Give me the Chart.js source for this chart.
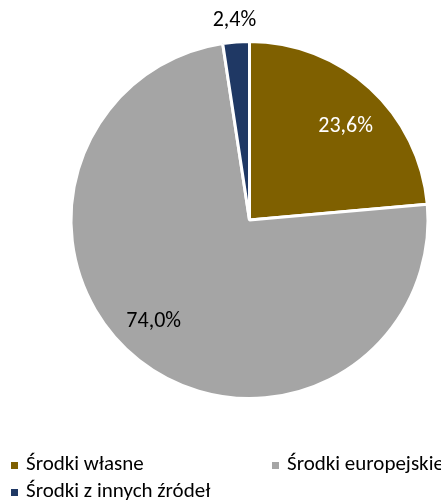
<!DOCTYPE html>
<html>
<head>
<meta charset="utf-8">
<script src="https://cdn.jsdelivr.net/npm/chart.js@4/dist/chart.umd.min.js"></script>
<style>
html,body{margin:0;padding:0;background:#fff;}
#wrap{width:441px;height:502px;position:relative;}
</style>
</head>
<body>
<div id="wrap"><canvas id="c" width="441" height="502"></canvas></div>
<script>
const categories = ["Środki własne", "Środki europejskie", "Środki z innych źródeł"];
const values = [23.6, 74.0, 2.4];
const valueLabels = ["23,6%", "74,0%", "2,4%"];
const colors = ["#7F6000", "#A5A5A5", "#1F3864"];
const labelColors = ["#FFFFFF", "#000000", "#000000"];
const labelFrac = [0.54, 0.52, 0.5];     // angular position within slice
const labelDist = [0.75, 0.78, 1.12];    // radial distance (fraction of radius)

const FONT = "Carlito, Lato, 'Liberation Sans', sans-serif";

const labelPlugin = {
  id: 'sliceLabels',
  afterDatasetsDraw(chart) {
    const ctx = chart.ctx;
    const meta = chart.getDatasetMeta(0);
    ctx.save();
    ctx.font = "22px " + FONT;
    ctx.textAlign = 'center';
    ctx.textBaseline = 'middle';
    meta.data.forEach((arc, i) => {
      const p = arc.getProps(['x','y','startAngle','endAngle','outerRadius'], true);
      const a = p.startAngle + (p.endAngle - p.startAngle) * labelFrac[i];
      const r = p.outerRadius * labelDist[i];
      ctx.fillStyle = labelColors[i];
      ctx.fillText(valueLabels[i], p.x + Math.cos(a) * r, p.y + Math.sin(a) * r);
    });
    ctx.restore();
  }
};

const legendPlugin = {
  id: 'customLegend',
  afterDraw(chart) {
    const ctx = chart.ctx;
    ctx.save();
    ctx.font = "21px " + FONT;
    ctx.textBaseline = 'middle';
    ctx.textAlign = 'left';
    const cols = [11, 272];
    const rows = [465, 492];
    categories.forEach((name, i) => {
      const col = i % 2, row = Math.floor(i / 2);
      const x = cols[col], y = rows[row];
      ctx.fillStyle = colors[i];
      ctx.fillRect(x, y - 3, 7, 7);
      ctx.fillStyle = '#000';
      ctx.fillText(name, x + 15, y);
    });
    ctx.restore();
  }
};

new Chart(document.getElementById('c'), {
  type: 'pie',
  data: {
    labels: categories,
    datasets: [{
      data: values,
      backgroundColor: colors,
      borderColor: '#FFFFFF',
      borderWidth: 3,
      hoverOffset: 0,
      hoverBorderWidth: 3
    }]
  },
  options: {
    responsive: false,
    animation: false,
    events: [],
    layout: { padding: { left: 69, top: 40, right: 11, bottom: 102 } },
    plugins: {
      legend: { display: false },
      tooltip: { enabled: false }
    }
  },
  plugins: [labelPlugin, legendPlugin]
});
</script>
</body>
</html>
